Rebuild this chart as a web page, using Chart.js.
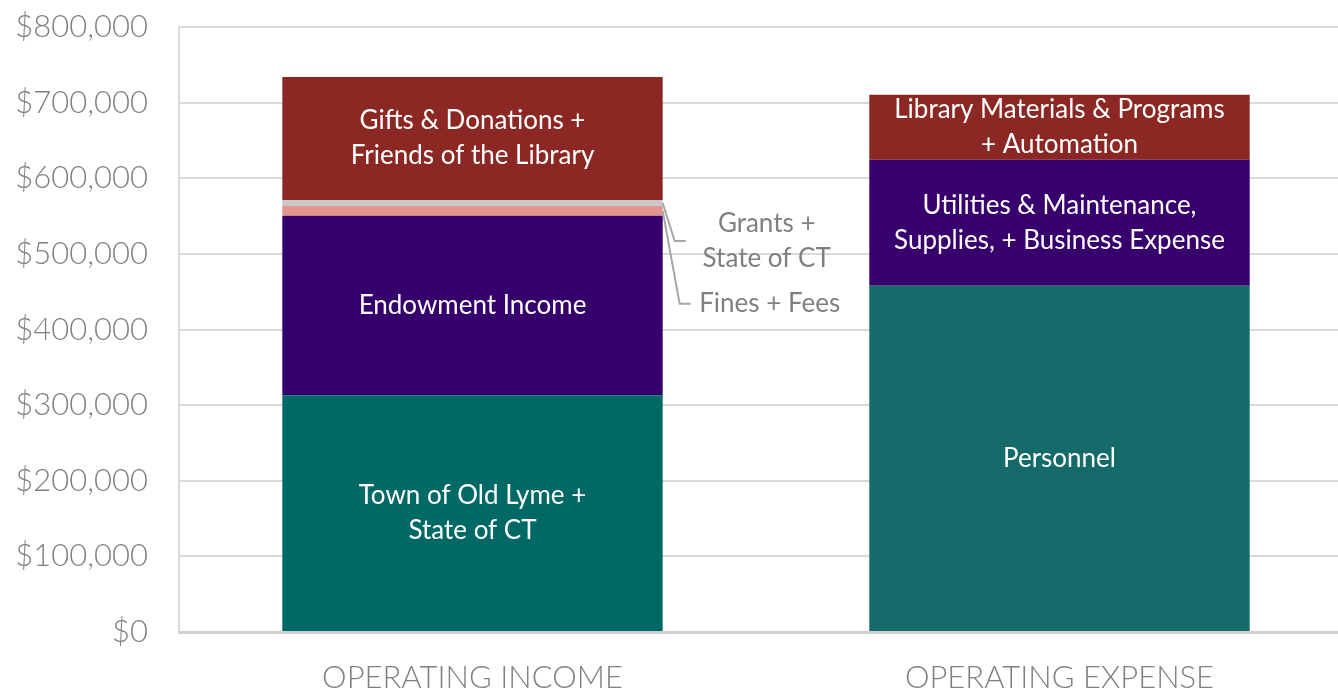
<!DOCTYPE html>
<html>
<head>
<meta charset="utf-8">
<script src="https://cdn.jsdelivr.net/npm/chart.js@4.4.1/dist/chart.umd.min.js"></script>
<style>
  html, body { margin: 0; padding: 0; overflow: hidden; background: #fff; }
  #wrap { position: absolute; left: 0; top: 0; width: 1356px; height: 692px; }
</style>
</head>
<body>
<div id="wrap"><canvas id="chart"></canvas></div>
<script>
const categories = ['OPERATING INCOME', 'OPERATING EXPENSE'];

// income segments, bottom to top
const incomeLabels = [
  ['Town of Old Lyme +', 'State of CT'],
  ['Endowment Income'],
  ['Fines + Fees'],
  ['Grants +', 'State of CT'],
  ['Gifts & Donations +', 'Friends of the Library']
];
const incomeValues = [313000, 237500, 12800, 7900, 162700];
const incomeColors = ['#006966', '#36006c', '#e4948f', '#c9c9c9', '#8b2823'];
const incomeOutside = [false, false, true, true, false];

// expense segments, bottom to top
const expenseLabels = [
  ['Personnel'],
  ['Utilities & Maintenance,', 'Supplies, + Business Expense'],
  ['Library Materials & Programs', '+ Automation']
];
const expenseValues = [457700, 166600, 86000];
const expenseColors = ['#146b69', '#37006d', '#8b2823'];

const yMin = 0, yMax = 800000, yStep = 100000;

const FONT = 'Lato, "Open Sans", sans-serif';
const GREY = '#808080';

const datasets = [];
incomeValues.forEach((v, i) => {
  datasets.push({
    label: incomeLabels[i].join(' '),
    lines: incomeLabels[i],
    outside: incomeOutside[i],
    data: [v, null],
    backgroundColor: incomeColors[i]
  });
});
expenseValues.forEach((v, i) => {
  datasets.push({
    label: expenseLabels[i].join(' '),
    lines: expenseLabels[i],
    outside: false,
    data: [null, v],
    backgroundColor: expenseColors[i]
  });
});

const segmentLabels = {
  id: 'segmentLabels',
  afterDatasetsDraw(chart) {
    const ctx = chart.ctx;
    ctx.save();
    ctx.textAlign = 'center';
    ctx.textBaseline = 'middle';
    let outsideCount = 0;
    chart.data.datasets.forEach((ds, di) => {
      const meta = chart.getDatasetMeta(di);
      meta.data.forEach((bar, idx) => {
        if (ds.data[idx] == null) return;
        const cy = (bar.y + bar.base) / 2;
        const lh = 35;
        if (!ds.outside) {
          ctx.fillStyle = '#ffffff';
          ctx.font = '26px ' + FONT;
          const y0 = cy - (ds.lines.length - 1) * lh / 2;
          ds.lines.forEach((t, k) => ctx.fillText(t, bar.x, y0 + k * lh));
        } else {
          const right = bar.x + bar.width / 2;
          // fines (first outside) goes lower, grants above it
          const isFines = outsideCount === 0;
          outsideCount++;
          const drop = isFines ? 93 : 38;
          const kx = isFines ? 17 : 12;
          ctx.strokeStyle = '#a6a6a6';
          ctx.lineWidth = 2;
          ctx.beginPath();
          ctx.moveTo(right, cy);
          ctx.lineTo(right + kx, cy + drop);
          ctx.lineTo(right + kx + 11, cy + drop);
          ctx.stroke();
          ctx.fillStyle = GREY;
          ctx.font = '26px ' + FONT;
          const tx = right + (isFines ? 107 : 104);
          const y0 = cy + drop - (ds.lines.length - 1) * lh / 2;
          ds.lines.forEach((t, k) => ctx.fillText(t, tx, y0 + k * lh));
        }
      });
    });
    ctx.restore();
  }
};

new Chart(document.getElementById('chart'), {
  type: 'bar',
  data: { labels: categories, datasets: datasets },
  plugins: [segmentLabels],
  options: {
    responsive: true,
    maintainAspectRatio: false,
    animation: false,
    events: [],
    layout: { padding: { top: 27, right: 3, left: 0, bottom: 0 } },
    datasets: {
      bar: { barPercentage: 0.648, categoryPercentage: 1.0, borderWidth: 0 }
    },
    plugins: {
      legend: { display: false },
      tooltip: { enabled: false }
    },
    scales: {
      x: {
        stacked: true,
        grid: { display: false, drawTicks: false },
        border: { display: true, color: '#d0d0d0', width: 3 },
        ticks: {
          color: GREY,
          font: { family: FONT, size: 31, weight: 300 },
          padding: 27,
          maxRotation: 0
        },
        afterFit(scale) { scale.height = 60; }
      },
      y: {
        stacked: true,
        min: yMin,
        max: yMax,
        grid: { color: '#d9d9d9', lineWidth: 2, drawTicks: false },
        border: { display: true, color: '#d9d9d9', width: 2 },
        ticks: {
          stepSize: yStep,
          color: GREY,
          font: { family: FONT, size: 31, weight: 300 },
          padding: 31,
          callback: v => '$' + v.toLocaleString('en-US')
        },
        afterFit(scale) {
          scale.width = 179;
          scale.paddingTop = 0;
          scale.paddingBottom = 0;
        }
      }
    }
  }
});
</script>
</body>
</html>
